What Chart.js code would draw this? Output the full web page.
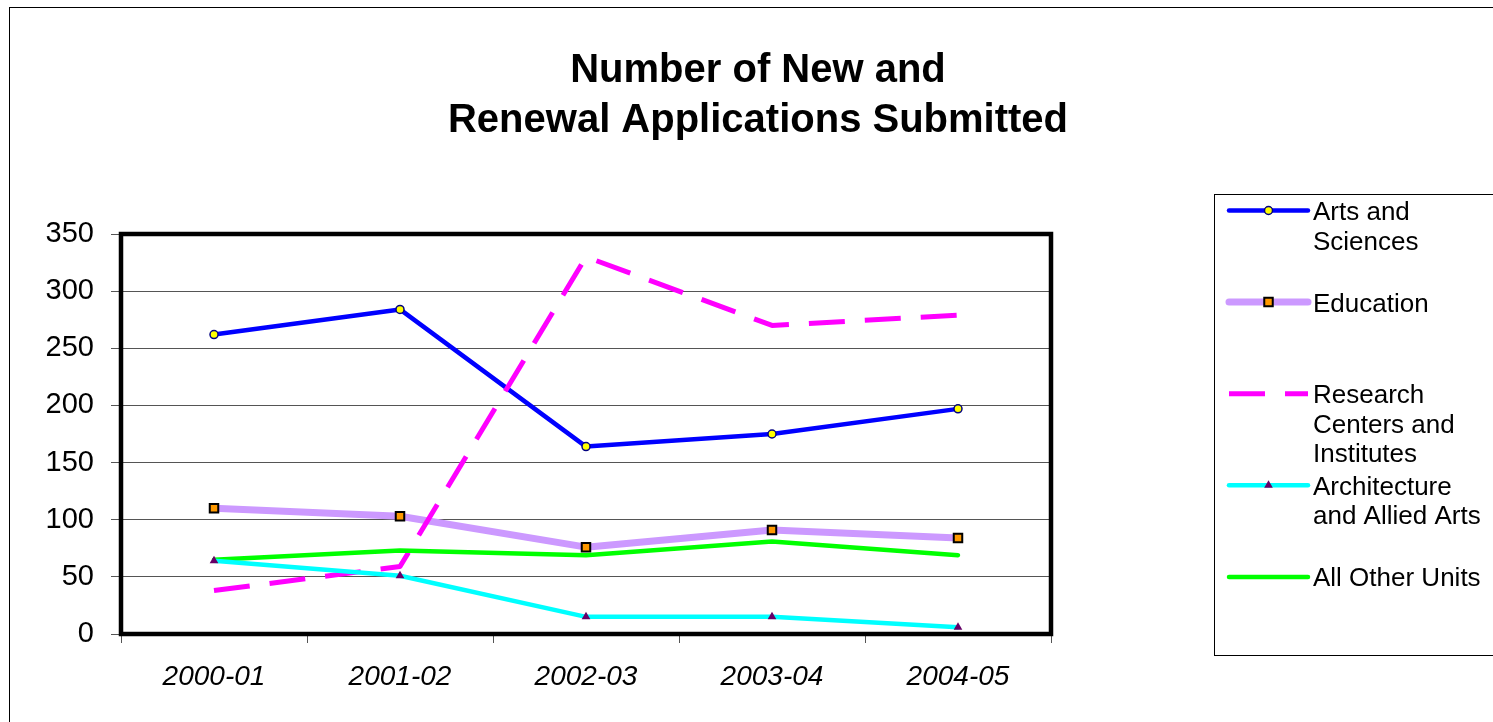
<!DOCTYPE html>
<html>
<head>
<meta charset="utf-8">
<title>Number of New and Renewal Applications Submitted</title>
<script src="https://cdn.jsdelivr.net/npm/chart.js@4.4.1/dist/chart.umd.min.js"></script>
<style>
	body { margin: 0; background: #ffffff; }
	canvas { display: block; }
</style>
</head>
<body>
<canvas id="CanvasApplications" width="1493" height="722"></canvas>
<script>
var chartTitle = ['Number of New and', 'Renewal Applications Submitted'];
var years = ['2000-01', '2001-02', '2002-03', '2003-04', '2004-05'];
var yTicks = [0, 50, 100, 150, 200, 250, 300, 350];
var seriesNames = ['Arts and Sciences', 'Education', 'Research Centers and Institutes', 'Architecture and Allied Arts', 'All Other Units'];

var artsSciences = [262, 284, 164, 175, 197];
var education = [110, 103, 76, 91, 84];
var researchCenters = [38, 59, 330, 270, 279];
var architecture = [64, 51, 15, 15, 6];
var otherUnits = [65, 73, 69, 81, 69];

var fontFamily = "'Liberation Sans', Arial, sans-serif";

var datasets = [];
datasets.push({
	label: seriesNames[0],
	data: artsSciences,
	borderColor: '#0000FF',
	borderWidth: 4.5,
	pointStyle: 'circle',
	pointRadius: 4,
	pointBackgroundColor: '#FFFF00',
	pointBorderColor: '#000080',
	pointBorderWidth: 1.5,
	order: 4
});
datasets.push({
	label: seriesNames[1],
	data: education,
	borderColor: '#CC99FF',
	borderWidth: 7,
	pointStyle: 'rect',
	pointRadius: 6,
	pointBackgroundColor: '#FF9900',
	pointBorderColor: '#000000',
	pointBorderWidth: 2,
	order: 3
});
datasets.push({
	label: seriesNames[2],
	data: researchCenters,
	borderColor: '#FF00FF',
	borderWidth: 5,
	borderDash: [36, 20],
	borderCapStyle: 'butt',
	pointRadius: 0,
	order: 2
});
datasets.push({
	label: seriesNames[3],
	data: architecture,
	borderColor: '#00FFFF',
	borderWidth: 4.5,
	pointStyle: 'triangle',
	pointRadius: 5,
	pointBackgroundColor: '#660066',
	pointBorderColor: '#660066',
	pointBorderWidth: 0,
	order: 0
});
datasets.push({
	label: seriesNames[4],
	data: otherUnits,
	borderColor: '#00FF00',
	borderWidth: 4.5,
	pointRadius: 0,
	order: 1
});

// round joins like the original, dashed line keeps butt caps
datasets.forEach(function (ds) {
	ds.fill = false;
	ds.tension = 0;
	ds.borderJoinStyle = 'round';
	if (!ds.borderCapStyle) ds.borderCapStyle = 'round';
	ds.pointHoverRadius = ds.pointRadius;
});

function wrapText(ctx, text, maxWidth) {
	var words = text.split(' ');
	var lines = [];
	var line = '';
	words.forEach(function (w) {
		var test = line ? line + ' ' + w : w;
		if (line && ctx.measureText(test).width > maxWidth) {
			lines.push(line);
			line = w;
		} else {
			line = test;
		}
	});
	if (line) lines.push(line);
	return lines;
}

function drawMarker(ctx, ds, x, y) {
	var r = ds.pointRadius;
	ctx.fillStyle = ds.pointBackgroundColor;
	ctx.strokeStyle = ds.pointBorderColor;
	ctx.lineWidth = ds.pointBorderWidth;
	ctx.beginPath();
	if (ds.pointStyle === 'rect') {
		var s = r * Math.SQRT1_2;
		ctx.rect(x - s, y - s, 2 * s, 2 * s);
	} else if (ds.pointStyle === 'triangle') {
		ctx.moveTo(x, y - r);
		ctx.lineTo(x + r * 0.866, y + r / 2);
		ctx.lineTo(x - r * 0.866, y + r / 2);
		ctx.closePath();
	} else {
		ctx.arc(x, y, r, 0, Math.PI * 2);
	}
	ctx.fill();
	if (ds.pointBorderWidth > 0) ctx.stroke();
}

var framePlugin = {
	id: 'frame',
	beforeDraw: function (chart) {
		var ctx = chart.ctx;
		ctx.save();
		ctx.strokeStyle = '#000000';
		ctx.lineWidth = 1;
		ctx.strokeRect(9.5, 7.5, 1600, 800);

		ctx.fillStyle = '#000000';
		ctx.font = 'bold 40px ' + fontFamily;
		ctx.textAlign = 'center';
		ctx.textBaseline = 'alphabetic';
		ctx.fillText(chartTitle[0], 758, 82);
		ctx.fillText(chartTitle[1], 758, 132);
		ctx.restore();
	},
	beforeDatasetsDraw: function (chart) {
		var a = chart.chartArea;
		var ctx = chart.ctx;
		ctx.save();
		ctx.strokeStyle = '#000000';
		ctx.lineWidth = 4.5;
		ctx.strokeRect(a.left, a.top, a.right - a.left, a.bottom - a.top);
		ctx.restore();
	},
	afterDraw: function (chart) {
		var ctx = chart.ctx;
		ctx.save();
		ctx.strokeStyle = '#000000';
		ctx.lineWidth = 1;
		ctx.strokeRect(1214.5, 194.5, 400, 461);

		ctx.font = '26px ' + fontFamily;
		ctx.textAlign = 'left';
		ctx.textBaseline = 'alphabetic';
		chart.data.datasets.forEach(function (ds, i) {
			var y = 210.5 + i * 91.6;
			ctx.save();
			ctx.strokeStyle = ds.borderColor;
			ctx.lineWidth = ds.borderWidth;
			ctx.lineCap = ds.borderDash ? 'butt' : 'round';
			ctx.setLineDash(ds.borderDash || []);
			ctx.beginPath();
			ctx.moveTo(1229, y);
			ctx.lineTo(1308, y);
			ctx.stroke();
			ctx.setLineDash([]);
			if (ds.pointRadius > 0) drawMarker(ctx, ds, 1268.5, y);
			ctx.restore();

			ctx.fillStyle = '#000000';
			var lines = wrapText(ctx, ds.label, 175);
			lines.forEach(function (line, j) {
				ctx.fillText(line, 1313, y + 9.5 + j * 29.5);
			});
		});
		ctx.restore();
	}
};

const context = document.getElementById('CanvasApplications');
const myChart = new Chart(context, {
	type: 'line',
	data: {
		labels: years,
		datasets: datasets
	},
	options: {
		responsive: false,
		animation: false,
		devicePixelRatio: 1,
		layout: {
			padding: { left: 0, top: 234, right: 442, bottom: 0 }
		},
		plugins: {
			legend: { display: false },
			title: { display: false },
			tooltip: { enabled: false }
		},
		scales: {
			x: {
				offset: true,
				afterFit: function (scale) { scale.height = 88; },
				grid: {
					offset: true,
					drawOnChartArea: false,
					tickLength: 9,
					color: '#555555'
				},
				border: { display: false },
				ticks: {
					color: '#000000',
					maxRotation: 0,
					padding: 17,
					font: { family: fontFamily, size: 28, style: 'italic' }
				}
			},
			y: {
				min: 0,
				max: 350,
				afterBuildTicks: function (scale) {
					scale.ticks = yTicks.map(function (v) { return { value: v }; });
				},
				afterFit: function (scale) { scale.width = 121; },
				grid: {
					color: '#555555',
					lineWidth: 1,
					tickLength: 10,
					tickColor: '#555555'
				},
				border: { display: false },
				ticks: {
					color: '#000000',
					padding: 17,
					font: { family: fontFamily, size: 29 }
				}
			}
		}
	},
	plugins: [framePlugin]
});
</script>
</body>
</html>
